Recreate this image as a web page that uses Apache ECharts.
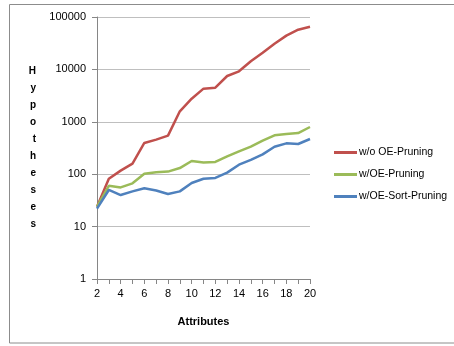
<!DOCTYPE html>
<html><head><meta charset="utf-8">
<script src="https://cdn.jsdelivr.net/npm/echarts@6/dist/echarts.min.js"></script>
<style>html,body{margin:0;padding:0;background:#fff}#c{width:454px;height:346px}</style>
</head><body><div id="c"></div>
<script>
const categories = ['2','3','4','5','6','7','8','9','10','11','12','13','14','15','16','17','18','19','20'];
const seriesNames = ['w/o OE-Pruning','w/OE-Pruning','w/OE-Sort-Pruning'];
const noPruning = [24,82,117,159,394,456,544,1585,2760,4290,4480,7480,9190,14260,20850,30970,44050,57300,65400];
const oePruning = [24,60,56,67,102,109,112,131,179,168,171,219,273,335,436,552,585,611,796];
const sortPruning = [22,50,40,47,54,49,42,47,68,82,85,107,152,187,239,335,388,377,470];
const colors = ['#C0504D','#9BBB59','#4F81BD'];
const font = 'Liberation Sans, Arial, sans-serif';

const chart = echarts.init(document.getElementById('c'), null, {renderer:'canvas'});
const mk = (name, data, color) => ({
  name, type:'line', data, symbol:'none', smooth:false,
  lineStyle:{color, width:2.5}, itemStyle:{color}
});
chart.setOption({
  animation:false,
  graphic:[{type:'rect', shape:{x:9.5,y:4.5,width:460,height:338.5},
    style:{fill:null, stroke:'#8c8c8c', lineWidth:1}, z:-1}],
  grid:{left:97, right:144, top:17, bottom:67},
  legend:{
    orient:'vertical', left:334, top:147, padding:0,
    itemWidth:23, itemHeight:10, itemGap:11,
    icon:'path://M0,0 L23,0 L23,3 L0,3 Z',
    textStyle:{fontFamily:font, fontSize:10.5, color:'#000', padding:[0,0,0,-3]},
    data:seriesNames
  },
  xAxis:{
    type:'category', data:categories, boundaryGap:false,
    name:'Attributes', nameLocation:'middle', nameGap:37,
    nameTextStyle:{fontFamily:font, fontSize:11, fontWeight:'bold', color:'#000'},
    axisLine:{lineStyle:{color:'#868686'}},
    axisTick:{interval:0, length:5, lineStyle:{color:'#868686'}},
    axisLabel:{interval:1, fontFamily:font, fontSize:11, color:'#000', margin:9},
    splitLine:{show:false}
  },
  yAxis:{
    type:'log', logBase:10, min:1, max:100000,
    name:'H\ny\np\no\nt\nh\ne\ns\ne\ns', nameLocation:'middle', nameGap:61, nameRotate:0,
    nameTextStyle:{fontFamily:font, fontSize:10, fontWeight:'bold', color:'#000', lineHeight:17, padding:[6,0,0,0]},
    axisLine:{show:true, lineStyle:{color:'#868686'}},
    axisTick:{show:true, length:5, lineStyle:{color:'#868686'}},
    axisLabel:{fontFamily:font, fontSize:11, color:'#000', margin:11, formatter:v => String(Math.round(v))},
    splitLine:{show:true, lineStyle:{color:'#BFBFBF', width:1}}
  },
  series:[
    mk(seriesNames[0], noPruning, colors[0]),
    mk(seriesNames[1], oePruning, colors[1]),
    mk(seriesNames[2], sortPruning, colors[2])
  ]
});
</script></body></html>
